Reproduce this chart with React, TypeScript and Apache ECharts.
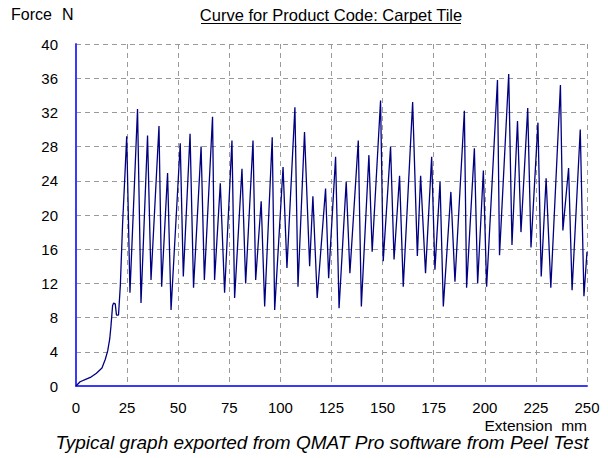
import React, { useEffect, useRef } from "react";
import * as echarts from "echarts";

// Extension (mm) and Force (N) (peaks and troughs)
const extension: number[] = [
  0, 2, 5, 7, 10, 12.7, 14.3, 15.5, 16.5, 17.1, 17.9, 18.4, 19.2, 19.8, 20.8, 21.7, 22.8, 23.9, 24.8,
  26.4, 30.1, 31.8, 35.0, 36.7, 40.6, 41.9, 44.8, 46.5, 51.0, 52.5, 55.8, 57.5, 61.2, 62.8, 66.8,
  67.8, 70.6, 72.7, 76.3, 77.6, 81.2, 83.0, 86.6, 87.9, 90.6, 92.3, 96.0, 97.2, 101.3, 103.2, 107.1,
  108.6, 111.8, 114.3, 115.9, 118.0, 122.1, 123.6, 127.0, 128.7, 132.2, 134.0, 138.1, 139.6, 143.3,
  144.9, 149.0, 150.3, 153.9, 155.6, 158.3, 160.1, 164.7, 167.0, 168.6, 171.0, 174.0, 175.6, 178.1,
  179.7, 183.4, 185.4, 190.0, 191.1, 194.9, 196.5, 199.3, 200.9, 206.2, 207.2, 211.7, 213.3, 216.0,
  217.7, 221.0, 222.6, 226.0, 227.6, 230.0, 232.3, 237.0, 238.2, 241.0, 242.7, 246.7, 248.5, 250.0,
];
const force: number[] = [
  0, 0.5, 0.8, 1.0, 1.5, 2.1, 3.1, 4.1, 5.5, 7.0, 9.4, 9.7, 9.6, 8.3, 8.3, 11.8, 19.0, 24.5, 29.2,
  10.9, 32.4, 9.7, 29.3, 12.4, 30.4, 11.6, 24.9, 8.9, 28.4, 12.8, 29.5, 11.5, 28.0, 12.4, 31.5,
  12.4, 23.7, 10.9, 28.7, 10.3, 25.4, 12.0, 28.7, 12.4, 21.6, 9.3, 29.1, 8.9, 25.6, 13.8, 32.6,
  11.6, 29.7, 14.0, 22.2, 10.3, 23.1, 12.6, 26.8, 9.1, 23.9, 13.2, 28.7, 9.3, 27.0,
  15.7, 33.4, 14.6, 28.0, 14.8, 24.6, 11.6, 33.2, 15.2, 24.6, 13.2, 26.8, 13.6, 23.9,
  9.3, 22.7, 12.2, 32.2, 11.5, 27.8, 12.0, 25.2, 11.6, 35.8, 15.3, 36.5, 16.5, 31.0,
  18.0, 32.5, 16.2, 30.8, 12.8, 24.3, 11.5, 35.2, 18.2, 25.5, 11.2, 30.0, 10.5, 15.7,
];

const yTicks: number[] = [0, 4, 8, 12, 16, 20, 24, 28, 32, 36, 40];
const xTicks: number[] = [0, 25, 50, 75, 100, 125, 150, 175, 200, 225, 250];

const titleText = "Curve for Product Code: Carpet Tile";
const yAxisName = "Force";
const yUnit = "N";
const xAxisName = "Extension  mm";
const caption = "Typical graph exported from QMAT Pro software from Peel Test";

const FONT = "'Liberation Sans', Arial, sans-serif";

export default function App() {
  const ref = useRef<HTMLDivElement>(null);
  useEffect(() => {
    if (!ref.current) return;
    const chart = echarts.init(ref.current, null, { renderer: "svg" });
    const data = extension.map((x, i) => [x, force[i]]);
    chart.setOption({
      animation: false,
      backgroundColor: "#ffffff",
      grid: { left: 76, right: 21, top: 44, bottom: 72, containLabel: false },
      xAxis: {
        type: "value",
        min: xTicks[0],
        max: xTicks[xTicks.length - 1],
        interval: 25,
        axisLine: { show: true, lineStyle: { color: "#3a3aff", width: 2 } },
        axisTick: { show: false },
        axisLabel: { color: "#000", fontSize: 15, fontFamily: FONT, margin: 14 },
        splitLine: { show: true, lineStyle: { color: "#9a9a9a", type: [5, 4], width: 1 } },
      },
      yAxis: {
        type: "value",
        min: yTicks[0],
        max: yTicks[yTicks.length - 1],
        interval: 4,
        axisLine: { show: true, lineStyle: { color: "#3a3aff", width: 2 } },
        axisTick: { show: false },
        axisLabel: { color: "#000", fontSize: 15, fontFamily: FONT, margin: 18 },
        splitLine: { show: true, lineStyle: { color: "#9a9a9a", type: [5, 4], width: 1 } },
      },
      series: [
        {
          type: "line",
          data,
          showSymbol: false,
          lineStyle: { color: "#000080", width: 1.3 },
          z: 5,
        },
      ],
      graphic: [
        {
          type: "text",
          left: 11,
          top: 6,
          style: { text: yAxisName, fill: "#000", font: `16px ${FONT}` },
        },
        {
          type: "text",
          left: 62,
          top: 6,
          style: { text: yUnit, fill: "#000", font: `16px ${FONT}` },
        },
        {
          type: "text",
          x: 331,
          y: 6,
          style: { text: titleText, fill: "#000", font: `16.5px ${FONT}`, align: "center", verticalAlign: "top" },
        },
        {
          type: "line",
          shape: { x1: 201, y1: 23.5, x2: 461, y2: 23.5 },
          style: { stroke: "#000", lineWidth: 1 },
        },
        {
          type: "text",
          x: 587,
          y: 417,
          style: { text: xAxisName, fill: "#000", font: `15.5px ${FONT}`, align: "right", verticalAlign: "top" },
        },
        {
          type: "text",
          x: 322,
          y: 433,
          style: { text: caption, fill: "#000", font: `italic 19px ${FONT}`, align: "center", verticalAlign: "top" },
        },
      ],
    });
    return () => chart.dispose();
  }, []);
  return <div ref={ref} style={{ width: 608, height: 458, position: "absolute", left: 0, top: 0 }} />;
}
